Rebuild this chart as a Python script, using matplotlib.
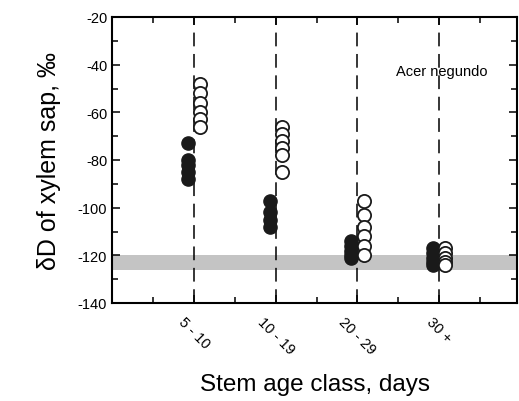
import matplotlib
matplotlib.use("Agg")
import matplotlib.pyplot as plt
from matplotlib.ticker import MultipleLocator

plt.rcParams['font.family'] = ['Liberation Sans', 'DejaVu Sans']
plt.rcParams['axes.unicode_minus'] = False

categories = ["5 - 10", "10 - 19", "20 - 29", "30 +"]
cat_pos = [1, 2, 3, 4]
filled_vals = [
    [-73, -80, -82, -85, -88],
    [-97, -102, -105, -108],
    [-114, -116, -118, -120, -121],
    [-117, -119, -121, -123, -124],
]
open_vals = [
    [-48, -52, -56, -60, -63, -66],
    [-66, -69, -72, -75, -78, -85],
    [-97, -103, -108, -112, -116, -120],
    [-117, -119, -121, -123, -124],
]
band = (-126, -120)
species = "Acer negundo"

fig = plt.figure(figsize=(5.19, 4.02), dpi=100)
ax = fig.add_axes([112/519, 98/402, 405/519, 286/402])

ax.axhspan(band[0], band[1], color='#c4c4c4', lw=0, zorder=1)
for p in cat_pos:
    ax.axvline(p, color='black', lw=1.1, ls=(0, (9, 5)), zorder=2)

off = 0.075
for p, fv, ov in zip(cat_pos, filled_vals, open_vals):
    ax.plot([p - off]*len(fv), fv, 'o', ms=9.5, mfc='#1a1a1a', mec='#1a1a1a', zorder=3)
    ax.plot([p + off]*len(ov), ov, 'o', ms=9.5, mfc='white', mec='#1a1a1a', mew=1.3, zorder=4)

ax.set_xlim(0, 4.95)
ax.set_ylim(-140, -20)
ax.set_xticks(cat_pos)
ax.set_xticklabels(categories, rotation=-45, ha='center', va='top', fontsize=10.5)
ax.xaxis.set_minor_locator(MultipleLocator(0.5))
ax.yaxis.set_major_locator(MultipleLocator(20))
ax.yaxis.set_minor_locator(MultipleLocator(10))
ax.tick_params(axis='both', which='both', direction='in', top=True, right=True, width=1.1)
ax.tick_params(axis='both', which='major', length=6, labelsize=10.5)
ax.tick_params(axis='both', which='minor', length=4)
ax.tick_params(axis='x', which='major', pad=8)
for s in ax.spines.values():
    s.set_linewidth(1.5)

ax.text(3.47, -42.7, species, fontsize=10.5, ha='left', va='center')
ax.set_xlabel("Stem age class, days", fontsize=17.5, labelpad=12)
ax.set_ylabel("δD of xylem sap, ‰", fontsize=18, labelpad=12)

fig.savefig("out.png", dpi=100)
